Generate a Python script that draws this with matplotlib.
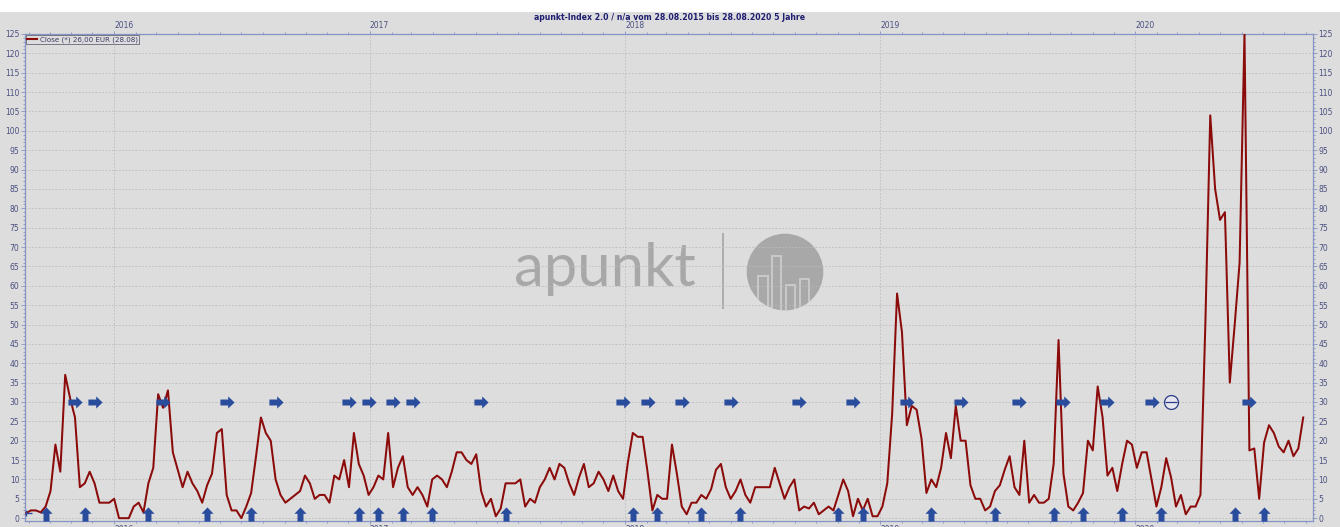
import numpy as np
import pandas as pd
import matplotlib
matplotlib.use('Agg')
import matplotlib.pyplot as plt
import matplotlib.dates as mdates
from matplotlib.path import Path
from matplotlib.patches import Rectangle, Circle
from matplotlib.ticker import MultipleLocator
from matplotlib.lines import Line2D

# ---------------- data ----------------
title = "apunkt-Index 2.0 / n/a vom 28.08.2015 bis 28.08.2020 5 Jahre"
legend_label = "Close (*) 26,00 EUR (28.08)"
start_date = "2015-08-28"
close_values = [
    1.3, 2, 2, 1.5, 3, 7, 19, 12, 37, 31,
    26, 8, 9, 12, 9, 4, 4, 4, 5, 0,
    0, 0, 3, 4, 1.5, 9, 13, 32, 28.5, 33,
    17, 12.5, 8, 12, 9, 7, 4, 8.5, 11.5, 22,
    23, 6, 2, 2, 0, 3, 6.5, 16, 26, 22,
    20, 10, 6, 4, 5, 6, 7, 11, 9, 5,
    6, 6, 4, 11, 10, 15, 8, 22, 14, 11,
    6, 8, 11, 10, 22, 8, 13, 16, 8, 6,
    8, 6, 3, 10, 11, 10, 8, 12, 17, 17,
    15, 14, 16.5, 7, 3, 5, 0.5, 2.5, 9, 9,
    9, 10, 3, 5, 4, 8, 10, 13, 10, 14,
    13, 9, 6, 10.5, 14, 8, 9, 12, 10, 7,
    11, 7, 5, 14.5, 22, 21, 21, 12, 2, 6,
    5, 5, 19, 11.5, 3, 1, 4, 4, 6, 5,
    7.5, 12.5, 14, 8, 5, 7, 10, 6, 4, 8,
    8, 8, 8, 13, 9, 5, 8, 10, 2, 3,
    2.5, 4, 1, 2, 3, 2, 6, 10, 7, 0.5,
    5, 2, 5, 0.5, 0.5, 3, 9, 27, 58, 48,
    24, 29, 28, 20.5, 6.5, 10, 8, 13, 22, 15.5,
    29, 20, 20, 8.5, 5, 5, 2, 3, 7, 8.5,
    12.5, 16, 8, 6, 20, 4, 6, 4, 4, 5,
    14, 46, 11.5, 3, 2, 4, 6.5, 20, 17.5, 34,
    26, 11, 13, 7, 14, 20, 19, 13, 17, 17,
    10, 3, 8, 15.5, 10.5, 3, 6, 1, 3, 3,
    6, 50, 104, 85, 77, 79, 35, 50, 66, 125,
    17.5, 18, 5, 19.5, 24, 22, 18.5, 17, 20, 16,
    18, 26,
]
# signal markers
hold_signal_dates = [
    "2015-11-06", "2015-12-04", "2016-03-11", "2016-06-10", "2016-08-19",
    "2016-12-02", "2016-12-30", "2017-02-03", "2017-03-03", "2017-06-09",
    "2017-12-29", "2018-02-02", "2018-03-23", "2018-06-01", "2018-09-07",
    "2018-11-23", "2019-02-08", "2019-04-26", "2019-07-19", "2019-09-20",
    "2019-11-22", "2020-01-24", "2020-06-12",
]
buy_signal_dates = [
    "2015-09-25", "2015-11-20", "2016-02-19", "2016-05-13", "2016-07-15",
    "2016-09-23", "2016-12-16", "2017-01-13", "2017-02-17", "2017-03-31",
    "2017-07-14", "2018-01-12", "2018-02-16", "2018-04-20", "2018-06-15",
    "2018-11-02", "2018-12-07", "2019-03-15", "2019-06-14", "2019-09-06",
    "2019-10-18", "2019-12-13", "2020-02-07", "2020-05-22", "2020-07-03",
]
exit_signal_dates = ["2020-02-21"]
hold_level = 30
buy_level = 1.0
year_ticks = ["2016-01-01", "2017-01-01", "2018-01-01", "2019-01-01", "2020-01-01"]
year_labels = ["2016", "2017", "2018", "2019", "2020"]

# ---------------- style ----------------
W, H = 1340, 527
BG = "#dddddd"
LINE = "#8b0a0a"
ARROW = "#2a4c9c"
SPINE = "#8494c4"
TICKC = "#4a4f80"
GRID = "#bcbcbc"
WM = "#a8a8a8"

dates = pd.date_range(start_date, periods=len(close_values), freq="7D")

fig = plt.figure(figsize=(W / 100, H / 100), dpi=100, facecolor=BG)
fig.patches.append(Rectangle((0, 1 - 11.5 / H), 1, 11.5 / H, transform=fig.transFigure,
                             facecolor="white", edgecolor="none", zorder=-5))

# background axes in pixel coords for the watermark
bg = fig.add_axes([0, 0, 1, 1])
bg.set_xlim(0, W)
bg.set_ylim(H, 0)
bg.axis("off")
bg.text(514, 286, "apunkt", fontsize=43, family="Lato", color=WM, ha="left", va="baseline")
bg.plot([723, 723], [233, 309], color=WM, lw=1.3, solid_capstyle="butt")
circ = Circle((785, 272), 38.3, facecolor=WM, edgecolor="none")
bg.add_patch(circ)
bars = [(759, 767, 277), (773, 780, 257), (787, 794, 286), (801, 808, 280)]
for x0, x1, top in bars:
    p = Rectangle((x0 - 2, top - 2), (x1 - x0) + 4, 60, facecolor="#c8c8c8", edgecolor="none")
    bg.add_patch(p)
    p.set_clip_path(circ)
for x0, x1, top in bars:
    p = Rectangle((x0, top), (x1 - x0), 60, facecolor=WM, edgecolor="none")
    bg.add_patch(p)
    p.set_clip_path(circ)

fig.text(670 / W, 1 - 17 / H, title, ha="center", va="center", fontsize=5.6,
         fontweight="bold", color="#1e1e70")

# main axes
left, right, top, bottom = 25, 1313, 34, 520.5
ax = fig.add_axes([left / W, (H - bottom) / H, (right - left) / W, (bottom - top) / H])
ax.set_facecolor("none")

ax.plot(dates, close_values, color=LINE, lw=1.45, zorder=3, solid_joinstyle="round")
ax.plot(dates[:1], close_values[:1], ls="none", marker="|", ms=5, mew=1, color=ARROW, zorder=4)
ax.plot(dates[:1], close_values[:1], ls="none", marker=1, ms=4, mew=1, color=ARROW, zorder=4)

right_arrow = Path([(-1, -0.42), (0.1, -0.42), (0.1, -0.86), (1, 0), (0.1, 0.86),
                    (0.1, 0.42), (-1, 0.42), (-1, -0.42)],
                   [Path.MOVETO] + [Path.LINETO] * 6 + [Path.CLOSEPOLY])
up_arrow = Path([(-y, x) for x, y in right_arrow.vertices], right_arrow.codes)

hd = pd.to_datetime(hold_signal_dates)
ax.plot(hd, [hold_level] * len(hd), ls="none", marker=right_arrow, ms=10.2,
        color=ARROW, mec=ARROW, mew=0, zorder=5)
bd = pd.to_datetime(buy_signal_dates)
ax.plot(bd, [buy_level] * len(bd), ls="none", marker=up_arrow, ms=10.2,
        color=ARROW, mec=ARROW, mew=0, zorder=5)
ed = pd.to_datetime(exit_signal_dates)
ax.plot(ed, [hold_level] * len(ed), ls="none", marker="o", ms=10, mfc="#e6e6ee",
        mec="#2b3d88", mew=0.9, zorder=5)
ax.plot(ed, [hold_level] * len(ed), ls="none", marker="_", ms=9, mec="#2b3d88",
        mew=0.9, zorder=6)

ax.set_xlim(pd.Timestamp("2015-08-26 12:00"), pd.Timestamp("2020-09-11"))
ax.set_ylim(-0.6, 125)

ax.set_xticks(pd.to_datetime(year_ticks), labels=year_labels, ha="left")
ax.xaxis.set_minor_locator(mdates.MonthLocator())
ax.yaxis.set_major_locator(MultipleLocator(5))
ax.yaxis.set_minor_locator(MultipleLocator(1))

ax.tick_params(axis="x", which="both", top=True, bottom=True, labeltop=True,
               labelbottom=True, direction="out", color=SPINE, labelcolor=TICKC,
               labelsize=5.5, width=0.6)
ax.tick_params(axis="x", which="major", length=2.5, pad=0.4)
ax.tick_params(axis="x", which="minor", length=1.5)
ax.tick_params(axis="y", which="both", left=True, right=True, labelleft=True,
               labelright=True, direction="out", color=SPINE, labelcolor=TICKC,
               labelsize=5.5, width=0.6)
ax.tick_params(axis="y", which="major", length=3, pad=1)
ax.tick_params(axis="y", which="minor", length=1.5)

for s in ax.spines.values():
    s.set_color(SPINE)
    s.set_linewidth(0.9)

ax.grid(True, which="major", axis="both", color=GRID, lw=0.6, linestyle=(0, (2, 2)))
ax.set_axisbelow(True)

leg = ax.legend(handles=[Line2D([], [], color=LINE, lw=1.5)], labels=[legend_label],
                loc="upper left", fontsize=5.1, frameon=True, fancybox=False,
                edgecolor="#666677", facecolor=BG, framealpha=1, borderpad=0.2,
                handlelength=1.4, handletextpad=0.3, borderaxespad=0.15)
leg.get_frame().set_linewidth(0.6)
for t in leg.get_texts():
    t.set_color("#3c3c66")

fig.savefig("out.png", dpi=100, facecolor=fig.get_facecolor())
